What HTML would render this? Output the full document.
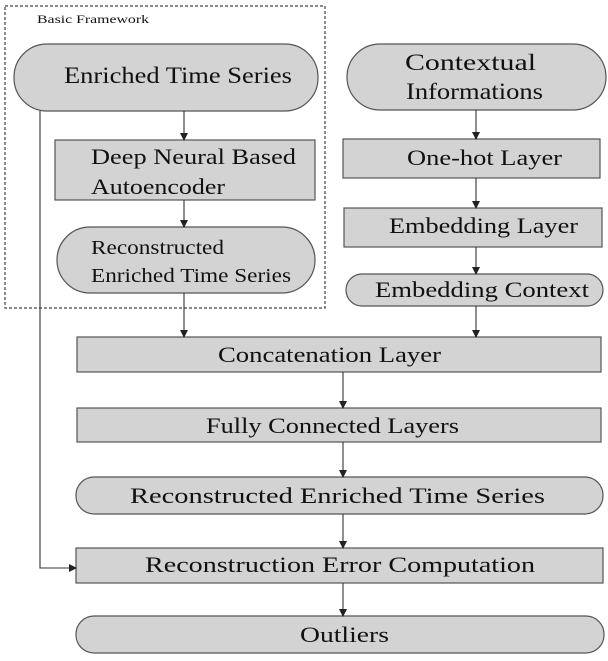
<!DOCTYPE html>
<html><head><meta charset="utf-8"><style>
html,body{margin:0;padding:0;background:#fff;}
svg{display:block;}
text{font-family:"Liberation Serif",serif;font-size:22px;fill:#111;}
</style></head><body>
<svg width="608" height="661" viewBox="0 0 608 661" xmlns="http://www.w3.org/2000/svg">
<defs><marker id="a" markerWidth="8" markerHeight="8" refX="7" refY="4" orient="auto" markerUnits="userSpaceOnUse"><path d="M0,0 L8,4 L0,8 Z" fill="#222"/></marker></defs>
<g fill="#d3d3d3" stroke="#555" stroke-width="1.2">
<rect x="5" y="6" width="320" height="302" fill="none" stroke="#444" stroke-dasharray="3,2"/>
<rect x="14" y="44" width="304" height="67" rx="33"/>
<rect x="347" y="44" width="259" height="66" rx="33"/>
<rect x="55" y="140" width="260" height="60"/>
<rect x="57" y="227" width="258" height="66" rx="33"/>
<rect x="343" y="139" width="257" height="39"/>
<rect x="344" y="208" width="258" height="39"/>
<rect x="346" y="274" width="257" height="32" rx="16"/>
<rect x="77" y="337" width="524" height="35"/>
<rect x="77" y="408" width="524" height="34"/>
<rect x="76" y="477" width="527" height="37" rx="18"/>
<rect x="76" y="548" width="527" height="35"/>
<rect x="76" y="616" width="528" height="37" rx="18"/>
</g>
<g stroke="#333" stroke-width="1.1" fill="none" marker-end="url(#a)">
<line x1="184" y1="111" x2="184" y2="140"/>
<line x1="184" y1="200" x2="184" y2="227"/>
<line x1="184" y1="293" x2="184" y2="337"/>
<line x1="476" y1="110" x2="476" y2="139"/>
<line x1="476" y1="178" x2="476" y2="208"/>
<line x1="476" y1="247" x2="476" y2="274"/>
<line x1="476" y1="306" x2="476" y2="337"/>
<line x1="343" y1="372" x2="343" y2="408"/>
<line x1="343" y1="442" x2="343" y2="477"/>
<line x1="343" y1="514" x2="343" y2="548"/>
<line x1="343" y1="583" x2="343" y2="616"/>
<polyline points="40,111 40,568 76,568"/>
</g>
<text x="37" y="23" style="font-size:12px" textLength="112" lengthAdjust="spacingAndGlyphs">Basic Framework</text>
<text x="64" y="83" textLength="228" lengthAdjust="spacingAndGlyphs" style="font-size:23px">Enriched Time Series</text>
<text x="405" y="70" textLength="131" lengthAdjust="spacingAndGlyphs" style="font-size:23px">Contextual</text>
<text x="406" y="99" textLength="137" lengthAdjust="spacingAndGlyphs" style="font-size:23px">Informations</text>
<text x="91" y="164" textLength="205" lengthAdjust="spacingAndGlyphs">Deep Neural Based</text>
<text x="91" y="194" textLength="134" lengthAdjust="spacingAndGlyphs">Autoencoder</text>
<text x="91" y="254" textLength="133" lengthAdjust="spacingAndGlyphs" style="font-size:20px">Reconstructed</text>
<text x="91" y="282" textLength="200" lengthAdjust="spacingAndGlyphs" style="font-size:20px">Enriched Time Series</text>
<text x="407" y="165" textLength="155" lengthAdjust="spacingAndGlyphs">One-hot Layer</text>
<text x="389" y="233" textLength="189" lengthAdjust="spacingAndGlyphs">Embedding Layer</text>
<text x="375" y="297" textLength="214" lengthAdjust="spacingAndGlyphs">Embedding Context</text>
<text x="218" y="362" textLength="223" lengthAdjust="spacingAndGlyphs">Concatenation Layer</text>
<text x="206" y="433" textLength="253" lengthAdjust="spacingAndGlyphs">Fully Connected Layers</text>
<text x="130" y="503" textLength="415" lengthAdjust="spacingAndGlyphs">Reconstructed Enriched Time Series</text>
<text x="145" y="572" textLength="390" lengthAdjust="spacingAndGlyphs">Reconstruction Error Computation</text>
<text x="300" y="642" textLength="89" lengthAdjust="spacingAndGlyphs">Outliers</text>
</svg>
</body></html>
